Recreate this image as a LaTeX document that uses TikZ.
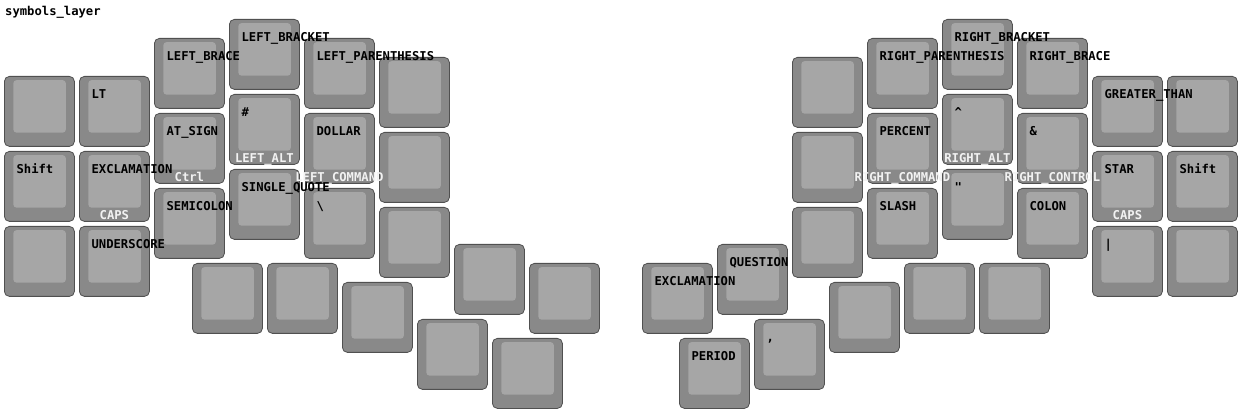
\documentclass[tikz,border=0pt]{standalone}
\usepackage{fontspec}
\newfontfamily\keyfont{DejaVu Sans Mono}[BoldFont={DejaVu Sans Mono Bold}]
\definecolor{keyout}{HTML}{898989}
\definecolor{keyin}{HTML}{A6A6A6}
\definecolor{keyedge}{HTML}{505050}
\definecolor{keywhite}{HTML}{F2F2F2}
\tikzset{
  keycap/.style={draw=keyedge, fill=keyout, rounded corners=5pt, line width=0.8pt,
    minimum width=70pt, minimum height=70pt, inner sep=0pt, outer sep=0pt,
    anchor=north west, xshift=0.4pt, yshift=-0.4pt},
  keytop/.style={fill=keyin, rounded corners=3pt, minimum width=52.4pt,
    minimum height=52.4pt, inner sep=0pt, outer sep=0pt, anchor=north west},
  labfont/.style={font=\keyfont\bfseries\fontsize{12.2}{14}\selectfont},
  toplab/.style={labfont, anchor=base west, inner sep=0pt, text=black},
  botlab/.style={labfont, anchor=base, inner sep=0pt, text=keywhite},
  titlelab/.style={labfont, anchor=base west, inner sep=0pt, text=black},
}
\newcommand\kc[3]{%
  \node[keycap] (#1) at (#2,#3) {};
  \node[keytop] (#1t) at ([xshift=9.0pt,yshift=-3.8pt]#1.north west) {};
}
\newcommand\blab[2]{%
  \node[botlab] (#1b) at ([xshift=35pt,yshift=-68pt]#1.north west) {#2};
}
\newcommand\tlab[2]{%
  \node[toplab] (#1l) at ([xshift=12pt,yshift=-21.8pt]#1.north west) {#2};
}
\begin{document}
\begin{tikzpicture}[x=1pt,y=-1pt]
\fill[white] (0,0) rectangle (1242,419);
\useasboundingbox (0,0) rectangle (1242,419);
\node[titlelab] (title) at (5,16) {symbols\_layer};
% ---------- left half ----------
\kc{La0}{4}{76}
\kc{Lb0}{79}{76}
\kc{Lc0}{154}{38}
\kc{Ld0}{229}{19}
\kc{Le0}{304}{38}
\kc{Lf0}{379}{57}
\kc{La1}{4}{151}
\kc{Lb1}{79}{151}
\kc{Lc1}{154}{113}
\kc{Ld1}{229}{94}
\kc{Le1}{304}{113}
\kc{Lf1}{379}{132}
\kc{La2}{4}{226}
\kc{Lb2}{79}{226}
\kc{Lc2}{154}{188}
\kc{Ld2}{229}{169}
\kc{Le2}{304}{188}
\kc{Lf2}{379}{207}
\kc{Lt1}{192}{263}
\kc{Lt2}{267}{263}
\kc{Lt3}{342}{282}
\kc{Lt4}{417}{319}
\kc{Lt5}{454}{244}
\kc{Lt6}{492}{338}
\kc{Lt7}{529}{263}
% ---------- right half ----------
\kc{Ra0}{792}{57}
\kc{Rb0}{867}{38}
\kc{Rc0}{942}{19}
\kc{Rd0}{1017}{38}
\kc{Re0}{1092}{76}
\kc{Rf0}{1167}{76}
\kc{Ra1}{792}{132}
\kc{Rb1}{867}{113}
\kc{Rc1}{942}{94}
\kc{Rd1}{1017}{113}
\kc{Re1}{1092}{151}
\kc{Rf1}{1167}{151}
\kc{Ra2}{792}{207}
\kc{Rb2}{867}{188}
\kc{Rc2}{942}{169}
\kc{Rd2}{1017}{188}
\kc{Re2}{1092}{226}
\kc{Rf2}{1167}{226}
\kc{Rt1}{642}{263}
\kc{Rt2}{717}{244}
\kc{Rt3}{679}{338}
\kc{Rt4}{754}{319}
\kc{Rt5}{829}{282}
\kc{Rt6}{904}{263}
\kc{Rt7}{979}{263}
% ---------- bottom (hold) labels ----------
\blab{Lb1}{CAPS}
\blab{Lc1}{Ctrl}
\blab{Ld1}{LEFT\_ALT}
\blab{Le1}{LEFT\_COMMAND}
\blab{Rb1}{RIGHT\_COMMAND}
\blab{Rc1}{RIGHT\_ALT}
\blab{Rd1}{RIGHT\_CONTROL}
\blab{Re1}{CAPS}
% ---------- top labels ----------
\tlab{Lb0}{LT}
\tlab{Lc0}{LEFT\_BRACE}
\tlab{Ld0}{LEFT\_BRACKET}
\tlab{Le0}{LEFT\_PARENTHESIS}
\tlab{La1}{Shift}
\tlab{Lb1}{EXCLAMATION}
\tlab{Lc1}{AT\_SIGN}
\tlab{Ld1}{\#}
\tlab{Le1}{DOLLAR}
\tlab{Lb2}{UNDERSCORE}
\tlab{Lc2}{SEMICOLON}
\tlab{Ld2}{SINGLE\_QUOTE}
\tlab{Le2}{\textbackslash}
\tlab{Rb0}{RIGHT\_PARENTHESIS}
\tlab{Rc0}{RIGHT\_BRACKET}
\tlab{Rd0}{RIGHT\_BRACE}
\tlab{Re0}{GREATER\_THAN}
\tlab{Rb1}{PERCENT}
\tlab{Rc1}{\textasciicircum}
\tlab{Rd1}{\&}
\tlab{Re1}{STAR}
\tlab{Rf1}{Shift}
\tlab{Rb2}{SLASH}
\tlab{Rc2}{\symbol{34}}
\tlab{Rd2}{COLON}
\tlab{Re2}{\textbar}
\tlab{Rt1}{EXCLAMATION}
\tlab{Rt2}{QUESTION}
\tlab{Rt3}{PERIOD}
\tlab{Rt4}{,}
\end{tikzpicture}
\end{document}
